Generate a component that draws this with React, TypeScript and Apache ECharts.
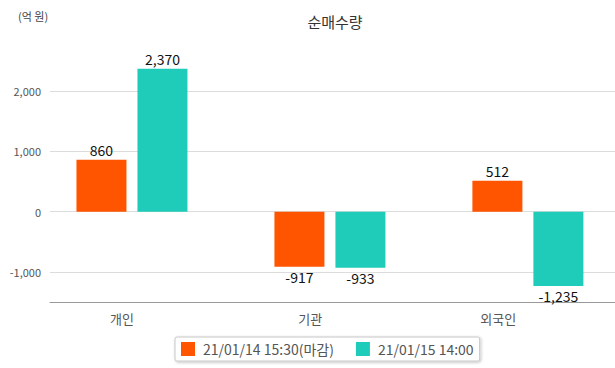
import React, { useEffect, useRef } from "react";
import * as echarts from "echarts";

const categories = ["개인", "기관", "외국인"];
const seriesNames = ["21/01/14 15:30(마감)", "21/01/15 14:00"];
const series1 = [860, -917, 512];
const series2 = [2370, -933, -1235];
const colors = ["#ff5500", "#1fccb9"];
const FONT = "'Noto Sans CJK KR', 'Noto Sans', sans-serif";

export default function App() {
  const ref = useRef<HTMLDivElement>(null);
  useEffect(() => {
    if (!ref.current) return;
    document.body.style.margin = "0";
    const chart = echarts.init(ref.current, null, { renderer: "svg" });
    const fmt = (v: number) => v.toLocaleString("en-US");
    const labelCfg = {
      show: true,
      position: "outside",
      color: "#111",
      fontSize: 14,
      fontFamily: FONT,
      distance: 3,
      formatter: (p: any) => fmt(p.value[1]),
    };
    const toPairs = (arr: number[]) => arr.map((v, i) => [i, v]);
    chart.setOption({
      animation: false,
      textStyle: { fontFamily: FONT },
      title: [
        {
          text: "순매수량",
          left: 330,
          textAlign: "center",
          top: 9,
          textStyle: { fontSize: 15, fontWeight: "normal", color: "#333", fontFamily: FONT },
        },
        {
          text: "(억 원)",
          left: 13,
          top: 5,
          textStyle: { fontSize: 11, fontWeight: "normal", color: "#444", fontFamily: FONT },
        },
      ],
      legend: {
        top: 337,
        left: 175,
        itemWidth: 14,
        itemHeight: 14,
        itemGap: 22,
        padding: [5, 6, 5, 6],
        borderColor: "#c8c8c8",
        borderWidth: 1,
        borderRadius: 2,
        backgroundColor: "#fff",
        shadowColor: "rgba(0,0,0,0.25)",
        shadowBlur: 3,
        shadowOffsetX: 1,
        shadowOffsetY: 1,
        textStyle: { fontSize: 14, color: "#555", fontFamily: FONT, padding: [0, 0, 0, 3] },
        icon: "rect",
        data: seriesNames,
      },
      grid: { left: 50, right: 0, top: 61, bottom: 66 },
      xAxis: {
        type: "value",
        min: -0.414,
        max: 2.44,
        axisTick: { show: false },
        splitLine: { show: false },
        axisLine: { show: true, onZero: false, lineStyle: { color: "#999" } },
        axisLabel: {
          color: "#555",
          fontSize: 13,
          margin: 10,
          fontFamily: FONT,
          hideOverlap: false,
          customValues: [-0.05, 0.9, 1.85],
          formatter: (v: number) => categories[Math.round(v)] ?? "",
        },
      },
      yAxis: {
        type: "value",
        min: -1500,
        max: 2500,
        interval: 500,
        axisLine: { show: false },
        axisTick: { show: false },
        axisLabel: {
          color: "#555",
          fontSize: 11,
          margin: 9,
          fontFamily: FONT,
          formatter: (v: number) => (v % 1000 === 0 ? fmt(v) : ""),
        },
        splitLine: {
          show: true,
          lineStyle: { color: ["transparent", "#dcdcdc"], width: 1 },
        },
      },
      series: [
        {
          name: seriesNames[0],
          type: "bar",
          data: toPairs(series1),
          barWidth: 50,
          barGap: "22%",
          itemStyle: { color: colors[0] },
          label: labelCfg,
        },
        {
          name: seriesNames[1],
          type: "bar",
          data: toPairs(series2),
          barWidth: 50,
          barGap: "22%",
          itemStyle: { color: colors[1] },
          label: labelCfg,
        },
      ],
    });
    return () => chart.dispose();
  }, []);
  return (
    <div
      ref={ref}
      style={{ position: "absolute", left: 0, top: 0, width: 615, height: 368 }}
    />
  );
}
